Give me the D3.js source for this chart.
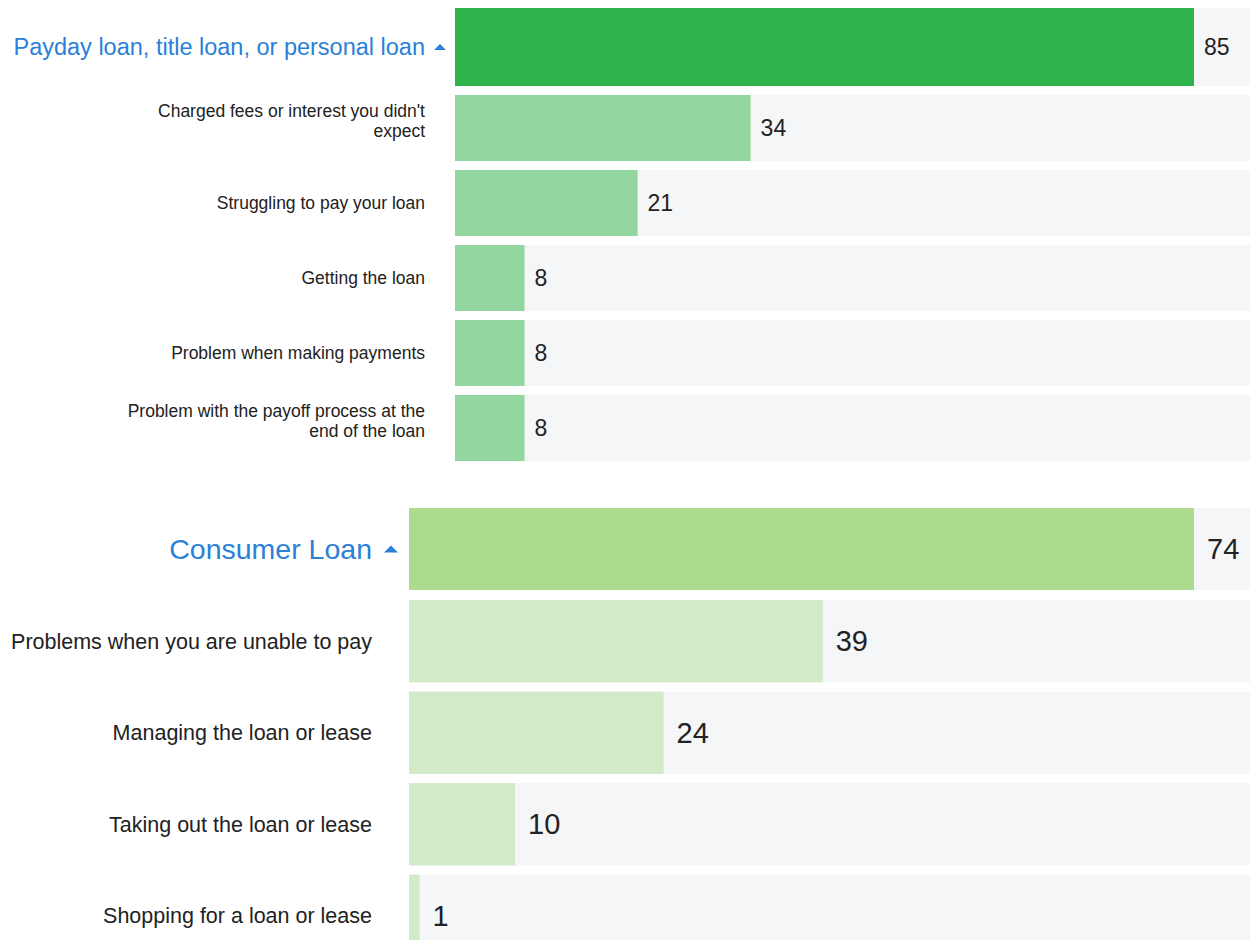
<!DOCTYPE html>
<html>
<head>
<meta charset="utf-8">
<script src="https://cdn.jsdelivr.net/npm/d3@7"></script>
<style>
  body { margin: 0; background: #fff; font-family: "Liberation Sans", Arial, sans-serif; }
  svg { display: block; }
</style>
</head>
<body>
<script>
// panel 1 data
var paydayTitle = "Payday loan, title loan, or personal loan"
var paydayTotal = 85
var paydayIssues = ["Charged fees or interest you didn't expect", "Struggling to pay your loan",
  "Getting the loan", "Problem when making payments", "Problem with the payoff process at the end of the loan"]
var paydayValues = [34, 21, 8, 8, 8]

// panel 2 data
var consumerTitle = "Consumer Loan"
var consumerTotal = 74
var consumerIssues = ["Problems when you are unable to pay", "Managing the loan or lease",
  "Taking out the loan or lease", "Shopping for a loan or lease"]
var consumerValues = [39, 24, 10, 1]

var W = 1250, H = 940

var svg = d3.select("body").append("svg")
  .attr("width", W)
  .attr("height", H)
  .style("font-family", "'Liberation Sans', Arial, sans-serif")

// split long labels into lines (block sits a bit above the row centre)
function wrap(text, width, lineH, size) {
  text.each(function() {
    var t = d3.select(this),
        words = t.text().split(/\s+/),
        line = [], lines = [];
    t.text(null)
    var tmp = t.append("tspan")
    words.forEach(function(w) {
      line.push(w)
      tmp.text(line.join(" "))
      if (tmp.node().getComputedTextLength() > width && line.length > 1) {
        line.pop()
        lines.push(line.join(" "))
        line = [w]
      }
    })
    lines.push(line.join(" "))
    tmp.remove()
    var x = t.attr("x"), off = -(lines.length - 1) * lineH * 0.85 + size * 0.35
    lines.forEach(function(l, i) {
      t.append("tspan").attr("x", x).attr("dy", i == 0 ? off : lineH).text(l)
    })
  })
}

function drawPanel(cfg) {
  var g = svg.append("g")

  var x = d3.scaleLinear()
      .domain([0, cfg.maxVal])
      .range([cfg.x0, cfg.x1])

  var y = d3.scaleBand()
      .domain(cfg.issues)
      .range(cfg.yRange)
      .paddingInner(cfg.pad)

  // header row
  g.append("rect")
    .attr("x", cfg.x0).attr("y", cfg.headY)
    .attr("width", W - cfg.x0).attr("height", cfg.headH)
    .style("fill", "#f5f6f8")
  g.append("rect")
    .attr("x", cfg.x0).attr("y", cfg.headY)
    .attr("width", x(cfg.total) - cfg.x0).attr("height", cfg.headH)
    .style("fill", cfg.headColor)
  g.append("text")
    .attr("x", x(cfg.total) + cfg.valOff)
    .attr("y", cfg.headY + cfg.headH / 2)
    .attr("dy", ".35em")
    .style("font-size", cfg.valSize + "px")
    .style("fill", "#222")
    .text(cfg.total)

  g.append("text")
    .attr("x", cfg.titleX)
    .attr("y", cfg.headY + cfg.headH / 2)
    .attr("dy", ".35em")
    .attr("text-anchor", "end")
    .style("font-size", cfg.titleSize + "px")
    .style("fill", "#2b80d8")
    .text(cfg.title)

  // little triangle after the title
  var tx = cfg.titleX + cfg.triOff, ty = cfg.headY + cfg.headH / 2
  g.append("path")
    .attr("d", "M" + (tx - cfg.tri) + "," + (ty + cfg.tri / 2) + "L" + tx + "," + (ty - cfg.tri / 2) + "L" + (tx + cfg.tri) + "," + (ty + cfg.tri / 2) + "Z")
    .style("fill", "#2b80d8")

  var rows = g.selectAll(".row")
    .data(cfg.issues.map(function(d, i) { return {issue: d, value: cfg.values[i]} }))
    .enter().append("g")
    .attr("class", "row")

  rows.append("rect")
    .attr("x", cfg.x0)
    .attr("y", function(d) { return y(d.issue) })
    .attr("width", W - cfg.x0)
    .attr("height", y.bandwidth())
    .style("fill", "#f5f6f8")

  rows.append("rect")
    .attr("x", cfg.x0)
    .attr("y", function(d) { return y(d.issue) })
    .attr("width", function(d) { return x(d.value) - cfg.x0 })
    .attr("height", y.bandwidth())
    .style("fill", cfg.subColor)

  rows.append("text")
    .attr("x", function(d) { return x(d.value) + cfg.valOff })
    .attr("y", function(d) { return y(d.issue) + y.bandwidth() / 2 })
    .attr("dy", ".35em")
    .style("font-size", cfg.valSize + "px")
    .style("fill", "#222")
    .text(function(d) { return d.value })

  rows.append("text")
    .attr("x", cfg.labelX)
    .attr("y", function(d) { return y(d.issue) + y.bandwidth() / 2 })
    .attr("text-anchor", "end")
    .style("font-size", cfg.labelSize + "px")
    .style("fill", "#222")
    .text(function(d) { return d.issue })
    .call(wrap, cfg.wrapW, cfg.lineH, cfg.labelSize)
}

drawPanel({
  title: paydayTitle, total: paydayTotal, issues: paydayIssues, values: paydayValues,
  maxVal: 85, x0: 455, x1: 1194,
  headY: 8, headH: 78, yRange: [95, 461], pad: 0.12,
  headColor: "#2eb34b", subColor: "#93d69f",
  titleX: 425, titleSize: 23.5, triOff: 15, tri: 6,
  labelX: 425, labelSize: 17.5, wrapW: 305, lineH: 20,
  valSize: 23, valOff: 10
})

drawPanel({
  title: consumerTitle, total: consumerTotal, issues: consumerIssues, values: consumerValues,
  maxVal: 74, x0: 409, x1: 1194,
  headY: 508, headH: 82, yRange: [600, 957], pad: 0.1,
  headColor: "#acdb8e", subColor: "#d3eac8",
  titleX: 372, titleSize: 28.5, triOff: 19, tri: 7,
  labelX: 372, labelSize: 21.5, wrapW: 400, lineH: 24,
  valSize: 29, valOff: 13
})
</script>
</body>
</html>
